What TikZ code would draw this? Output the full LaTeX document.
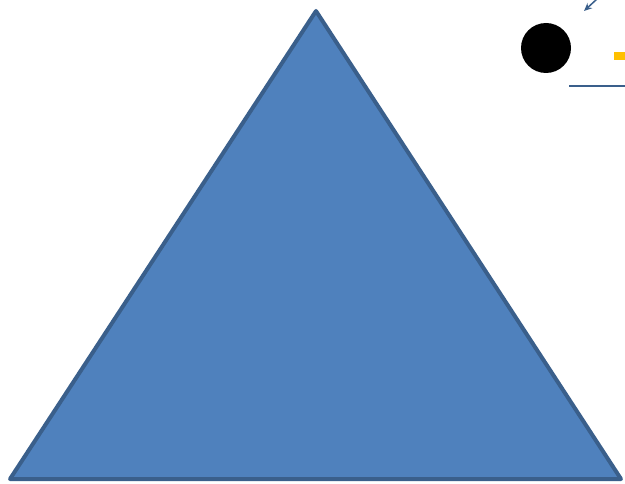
\documentclass[tikz,border=0pt]{standalone}
\usetikzlibrary{arrows.meta}
\definecolor{tri}{HTML}{4F81BD}
\definecolor{triedge}{HTML}{3A5F8B}
\definecolor{gold}{HTML}{FFC000}
\begin{document}
\begin{tikzpicture}[x=1pt,y=-1pt,
  pyramid/.style={fill=tri,draw=triedge,line width=4pt,line join=round},
  dot/.style={circle,fill=black,inner sep=0pt,minimum size=50pt},
  rule/.style={draw=triedge,line width=1.5pt}]
\useasboundingbox (0,0) rectangle (625,484);
\fill[white] (0,0) rectangle (625,484);
\coordinate (apex) at (316,11);
\coordinate (bl) at (10,479);
\coordinate (br) at (621,479);
\draw[pyramid] (apex) -- (br) -- (bl) -- cycle;
\node[dot] (ball) at (546,48) {};
\fill[gold] (614,52) rectangle (625,60);
\coordinate (ra) at (569,86);
\coordinate (rb) at (625,86);
\draw[rule] (ra) -- (rb);
\coordinate (aa) at (597,-1);
\coordinate (ab) at (584,11);
\draw[triedge,line width=1.5pt,-{Stealth[length=8pt,width=7pt]}] (aa) -- (ab);
\end{tikzpicture}
\end{document}
